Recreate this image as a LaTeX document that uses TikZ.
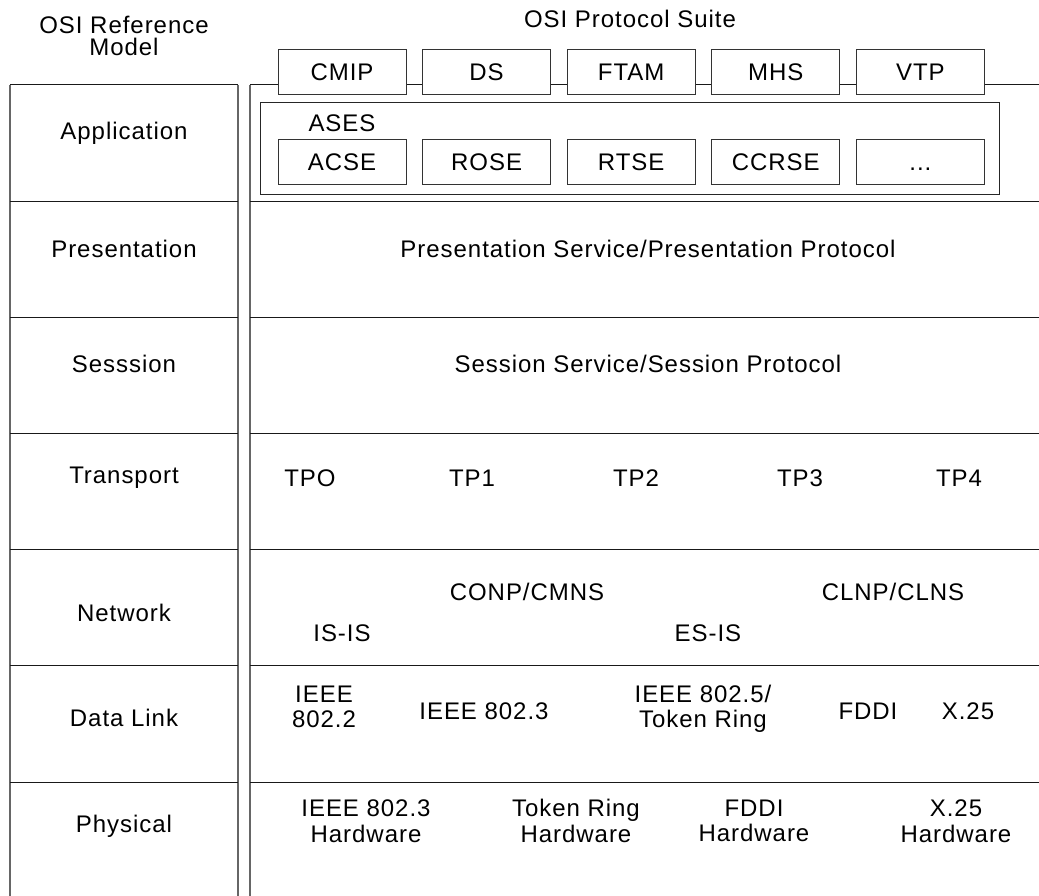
\documentclass[tikz,border=0pt]{standalone}
\usepackage{fontspec}
\setmainfont{Liberation Sans}[LetterSpace=4]
\begin{document}
\begin{tikzpicture}[x=1pt,y=-1pt,
  every node/.style={font=\fontsize{24}{25.5}\selectfont, inner sep=0pt, align=center},
  rule/.style={line width=1pt, draw=black!90},
  vrule/.style={line width=1.4pt, draw=black!60},
  protobox/.style={draw=black!80, line width=1pt, fill=white, minimum width=128pt, minimum height=45pt, text height=17pt, text depth=0pt}]
\useasboundingbox (0,0) rectangle (1039,896);
% left column
\draw[vrule] (10,85) -- (10,896);
\draw[vrule] (238,85) -- (238,896);
\draw[vrule] (250,85) -- (250,896);
\draw[rule] (10,85) -- (238,85);
\draw[rule] (250,85) -- (1039,85);
\foreach \y in {201.7,317,433,549,665.5,782}{
  \draw[rule] (10,\y) -- (238,\y);
  \draw[rule] (250,\y) -- (1039,\y);
}
% titles
\node (t1) at (124,25) {OSI Reference};
\node (t2) at (124,47) {Model};
\node (t3) at (630,18.5) {OSI Protocol Suite};
% layer names
\node (lapp) at (124,133) {Application};
\node (lpre) at (124,249) {Presentation};
\node (lses) at (124,364) {Sesssion};
\node (ltra) at (124,478) {Transport};
\node (lnet) at (124,613) {Network};
\node (ldl)  at (124,718) {Data Link};
\node (lphy) at (124,826) {Physical};
% application boxes
\draw[line width=1pt, draw=black!85] (260.7,102.3) rectangle (999,195);
\node[protobox] (cmip) at (342,72) {CMIP};
\node[protobox] (ds)   at (486.6,72) {DS};
\node[protobox] (ftam) at (631.2,72) {FTAM};
\node[protobox] (mhs)  at (775.8,72) {MHS};
\node[protobox] (vtp)  at (920.4,72) {VTP};
\node (ases) at (342,123) {ASES};
\node[protobox] (acse)  at (342,161.8) {ACSE};
\node[protobox] (rose)  at (486.6,161.8) {ROSE};
\node[protobox] (rtse)  at (631.2,161.8) {RTSE};
\node[protobox] (ccrse) at (775.8,161.8) {CCRSE};
\node[protobox] (dots)  at (920.4,161.8) {...};
% presentation / session
\node (pres) at (648,249) {Presentation Service/Presentation Protocol};
\node (sess) at (648,364) {Session Service/Session Protocol};
% transport
\node (tp0) at (310,478) {TPO};
\node (tp1) at (472,478) {TP1};
\node (tp2) at (636,478) {TP2};
\node (tp3) at (800,478) {TP3};
\node (tp4) at (959,478) {TP4};
% network
\node (conp) at (527,592) {CONP/CMNS};
\node (clnp) at (893,592) {CLNP/CLNS};
\node (isis) at (342,633) {IS-IS};
\node (esis) at (708,633) {ES-IS};
% data link
\node (i8022) at (324,707) {IEEE\\802.2};
\node (i8023) at (484,711) {IEEE 802.3};
\node (i8025) at (703,709) {IEEE 802.5/\\Token Ring};
\node (fddi)  at (868,711) {FDDI};
\node (x25)   at (968,711) {X.25};
% physical
\node (h8023) at (366,821) {IEEE 802.3\\Hardware};
\node (htr)   at (576,821) {Token Ring\\Hardware};
\node (hfddi) at (754,821) {FDDI\\Hardware};
\node (hx25)  at (956,821) {X.25\\Hardware};
\end{tikzpicture}
\end{document}
